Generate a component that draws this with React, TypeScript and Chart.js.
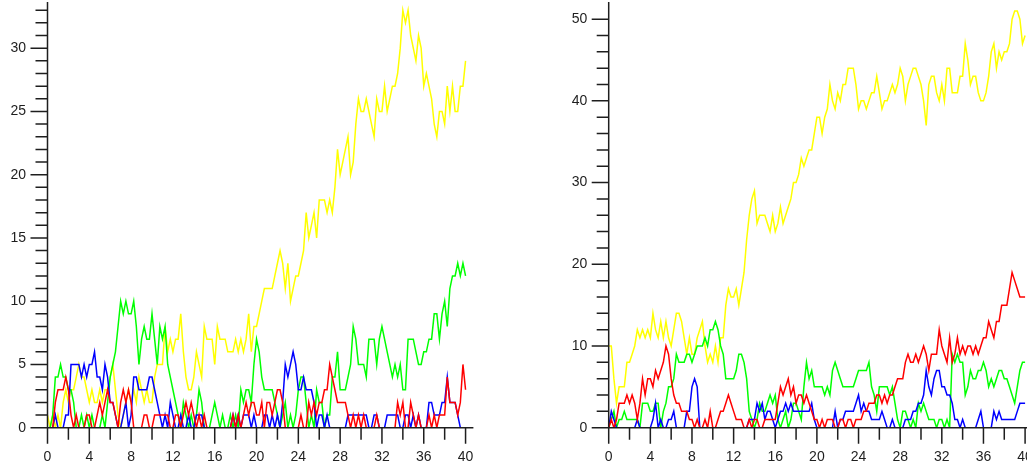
import { useEffect, useRef } from "react";
import { Chart, registerables } from "chart.js";

Chart.register(...registerables);

// ---------- data ----------
const STEP = 0.25;
const POINT_COUNT = 161;
const xValues: number[] = Array.from({ length: POINT_COUNT }, (_, i) => i * STEP);

const xMajorTicks = [0, 4, 8, 12, 16, 20, 24, 28, 32, 36, 40];
const xMinorTicks = [2, 6, 10, 14, 18, 22, 26, 30, 34, 38];

const leftYMajorTicks = [0, 5, 10, 15, 20, 25, 30];
const leftYMinorTicks = [1, 2, 3, 4, 6, 7, 8, 9, 11, 12, 13, 14, 16, 17, 18, 19, 21, 22, 23, 24, 26, 27, 28, 29, 31, 32, 33];

const rightYMajorTicks = [0, 10, 20, 30, 40, 50];
const rightYMinorTicks = [2, 4, 6, 8, 12, 14, 16, 18, 22, 24, 26, 28, 32, 34, 36, 38, 42, 44, 46, 48];

// left panel series (x = 0 .. 40 step 0.25)
const leftYellow = [
  1, 0, 1, 0, 1, 0, 2, 3, 2, 3, 3, 4, 5, 4, 4, 3,
  2, 3, 2, 2, 3, 2, 3, 3, 4, 5, 3, 1, 0, 1, 2, 3,
  2, 3, 2, 4, 3, 2, 3, 2, 2, 4, 5, 5, 5, 8, 6, 7,
  6, 7, 7, 9, 6, 4, 3, 3, 4, 6, 5, 4, 8, 7, 7, 7,
  5, 8, 7, 7, 7, 6, 6, 6, 7, 6, 7, 6, 7, 9, 6, 8,
  8, 9, 10, 11, 11, 11, 11, 12, 13, 14, 13, 11, 13, 10, 11, 12,
  12, 13, 14, 17, 15, 16, 17, 15, 18, 18, 18, 17, 18, 17, 19, 22,
  20, 21, 22, 23, 20, 21, 24, 26, 25, 25, 26, 25, 24, 23, 26, 25,
  25, 27, 25, 26, 27, 27, 28, 30, 33, 32, 33, 31, 30, 29, 31, 30,
  27, 28, 27, 26, 24, 23, 25, 25, 24, 27, 25, 27, 25, 25, 27, 27,
  29,
];
const leftGreen = [
  0, 0, 1, 4, 4, 5, 4, 4, 3, 3, 2, 0, 0, 1, 0, 1,
  0, 1, 0, 0, 0, 1, 0, 2, 4, 5, 6, 8, 10, 9, 10, 9,
  9, 10, 8, 5, 7, 8, 7, 7, 9, 7, 5, 8, 7, 8, 5, 4,
  3, 2, 1, 0, 2, 1, 0, 1, 0, 1, 3, 2, 0, 0, 0, 1,
  2, 1, 0, 1, 0, 0, 1, 0, 1, 0, 3, 2, 3, 3, 2, 5,
  7, 6, 4, 3, 3, 3, 3, 2, 1, 0, 1, 2, 0, 1, 0, 1,
  3, 4, 4, 2, 0, 1, 0, 3, 2, 2, 0, 1, 1, 4, 4, 6,
  3, 3, 3, 4, 5, 8, 7, 5, 5, 5, 4, 7, 7, 7, 5, 7,
  8, 7, 6, 5, 4, 5, 4, 5, 3, 3, 7, 7, 7, 6, 5, 5,
  6, 6, 7, 7, 9, 9, 7, 9, 10, 8, 11, 12, 12, 13, 12, 13,
  12,
];
const leftBlue = [
  0, 0, 0, 1, 0, 0, 0, 1, 1, 5, 5, 5, 5, 4, 5, 4,
  5, 5, 6, 4, 4, 3, 5, 4, 2, 2, 1, 0, 0, 1, 2, 0,
  1, 4, 4, 3, 3, 3, 3, 4, 4, 3, 2, 1, 0, 1, 0, 2,
  1, 0, 0, 1, 0, 0, 1, 0, 0, 1, 1, 1, 0, 0, 0, 0,
  0, 0, 0, 0, 0, 0, 0, 1, 0, 1, 0, 1, 1, 1, 0, 1,
  0, 0, 0, 1, 1, 0, 1, 0, 1, 0, 2, 5, 4, 5, 6, 5,
  3, 3, 4, 3, 3, 3, 2, 0, 1, 1, 0, 1, 0, 0, 0, 0,
  0, 0, 0, 1, 1, 1, 1, 1, 1, 1, 1, 0, 0, 1, 1, 0,
  0, 0, 1, 1, 1, 1, 1, 0, 0, 1, 1, 0, 1, 0, 1, 0,
  0, 0, 2, 2, 1, 1, 1, 2, 2, 4, 2, 2, 2, 1, 0, 0,
  0,
];
const leftRed = [
  0, 0, 0, 2, 3, 3, 3, 4, 3, 1, 0, 1, 0, 0, 0, 1,
  1, 0, 0, 1, 2, 1, 2, 3, 2, 2, 1, 0, 2, 3, 2, 3,
  2, 0, 0, 0, 0, 1, 1, 0, 0, 1, 1, 1, 1, 1, 1, 0,
  0, 1, 1, 0, 1, 2, 1, 2, 1, 0, 1, 0, 1, 0, 0, 0,
  0, 0, 0, 0, 0, 0, 0, 1, 0, 1, 0, 1, 2, 1, 2, 2,
  1, 1, 2, 0, 2, 2, 1, 2, 3, 3, 2, 0, 0, 0, 0, 0,
  0, 1, 0, 0, 2, 1, 2, 1, 2, 2, 3, 3, 5, 4, 3, 2,
  2, 2, 2, 1, 0, 1, 0, 1, 0, 1, 0, 0, 0, 0, 1, 0,
  0, 0, 0, 0, 0, 0, 2, 1, 2, 0, 0, 2, 1, 0, 1, 0,
  0, 0, 1, 0, 1, 0, 1, 1, 1, 4, 2, 2, 2, 1, 2, 5,
  3,
];

// right panel series
const rightYellow = [
  10, 10, 6, 3, 5, 5, 5, 8, 8, 9, 10, 12, 11, 12, 11, 12,
  11, 14, 12, 11, 13, 11, 13, 11, 10, 12, 14, 14, 13, 11, 9, 11,
  9, 9, 11, 12, 13, 10, 8, 9, 8, 10, 8, 11, 11, 15, 17, 16,
  16, 17, 15, 17, 19, 23, 26, 28, 29, 25, 26, 26, 26, 25, 24, 26,
  24, 25, 27, 25, 26, 27, 28, 30, 30, 31, 33, 32, 33, 34, 34, 36,
  38, 38, 36, 38, 39, 42, 40, 39, 41, 40, 42, 42, 44, 44, 44, 42,
  39, 40, 40, 39, 40, 41, 41, 43, 41, 39, 40, 40, 41, 42, 41, 42,
  44, 43, 40, 42, 43, 44, 44, 43, 42, 40, 37, 42, 43, 43, 41, 40,
  42, 40, 44, 44, 41, 41, 41, 43, 43, 47, 45, 42, 43, 43, 41, 40,
  40, 41, 43, 46, 47, 44, 46, 45, 46, 46, 47, 50, 51, 51, 50, 47,
  48,
];
const rightGreen = [
  0, 1, 2, 0, 1, 1, 2, 1, 1, 1, 1, 1, 0, 3, 3, 3,
  2, 2, 3, 3, 0, 2, 3, 5, 5, 6, 9, 8, 8, 8, 9, 9,
  8, 9, 10, 10, 10, 11, 10, 12, 12, 13, 12, 10, 9, 6, 6, 6,
  6, 7, 9, 9, 8, 6, 2, 1, 0, 1, 3, 2, 2, 3, 4, 3,
  4, 1, 0, 1, 2, 0, 1, 3, 3, 2, 1, 5, 8, 6, 7, 5,
  5, 5, 5, 4, 5, 4, 7, 8, 7, 6, 5, 5, 5, 5, 5, 6,
  7, 7, 7, 7, 8, 5, 4, 2, 5, 5, 5, 5, 4, 5, 3, 1,
  0, 2, 2, 1, 0, 1, 0, 3, 2, 3, 2, 1, 1, 1, 0, 1,
  1, 0, 1, 0, 9, 8, 9, 8, 8, 4, 5, 7, 6, 6, 7, 7,
  8, 7, 5, 6, 5, 6, 7, 7, 6, 6, 5, 4, 3, 5, 7, 8,
  8,
];
const rightBlue = [
  0, 2, 1, 0, 0, 0, 0, 0, 0, 0, 0, 1, 0, 0, 0, 0,
  0, 1, 3, 0, 1, 0, 0, 1, 1, 2, 0, 0, 0, 0, 2, 2,
  5, 6, 5, 0, 0, 0, 0, 0, 0, 0, 0, 0, 0, 0, 0, 0,
  0, 0, 0, 0, 0, 0, 1, 1, 1, 3, 2, 3, 1, 2, 2, 1,
  0, 1, 2, 2, 3, 2, 3, 2, 2, 2, 2, 2, 2, 2, 3, 1,
  0, 0, 0, 0, 0, 0, 0, 2, 0, 1, 1, 2, 2, 2, 2, 3,
  4, 2, 3, 2, 2, 1, 1, 1, 1, 2, 1, 0, 0, 1, 0, 0,
  0, 0, 1, 1, 1, 2, 2, 3, 3, 4, 7, 5, 4, 6, 7, 7,
  5, 5, 4, 4, 3, 1, 1, 0, 1, 0, 0, 0, 0, 0, 1, 2,
  0, 0, 0, 0, 2, 1, 2, 1, 1, 1, 1, 1, 1, 2, 3, 3,
  3,
];
const rightRed = [
  0, 1, 0, 1, 3, 3, 3, 4, 3, 4, 3, 1, 3, 6, 4, 6,
  6, 5, 7, 6, 7, 8, 10, 9, 6, 4, 3, 3, 2, 2, 2, 1,
  1, 0, 1, 0, 0, 1, 0, 2, 0, 0, 1, 2, 2, 3, 4, 3,
  2, 1, 1, 1, 0, 0, 1, 0, 1, 1, 0, 0, 1, 1, 1, 1,
  1, 3, 5, 4, 5, 6, 4, 5, 3, 4, 4, 3, 4, 3, 2, 1,
  1, 0, 1, 0, 1, 1, 1, 0, 0, 1, 1, 0, 1, 1, 0, 1,
  1, 1, 2, 2, 3, 3, 3, 4, 4, 3, 4, 3, 4, 4, 5, 6,
  6, 6, 8, 9, 8, 8, 9, 8, 9, 10, 9, 7, 9, 9, 9, 12,
  10, 9, 8, 11, 8, 9, 11, 9, 10, 9, 10, 10, 9, 10, 9, 10,
  11, 11, 13, 12, 11, 13, 13, 15, 15, 15, 17, 19, 18, 17, 16, 16,
  16,
];

// ---------- styles ----------
const RED = "#ff0000";
const BLUE = "#0000ff";
const GREEN = "#00ff00";
const YELLOW = "#ffff00";
const AXIS_COLOR = "#1e1e1e";
const FONT = { family: "'Liberation Sans', Arial, sans-serif", size: 14 };

const toPoints = (vals: number[]) => vals.map((v, i) => ({ x: xValues[i], y: v }));
const series = (label: string, vals: number[], color: string) => ({
  label,
  data: toPoints(vals),
  borderColor: color,
  backgroundColor: color,
  borderWidth: 1.5,
  pointRadius: 0,
  pointHoverRadius: 0,
  tension: 0,
  fill: false,
});

const axesPlugin = {
  id: "axesDraw",
  afterDatasetsDraw(chart: any, _args: any, opts: any) {
    const { ctx, chartArea } = chart;
    const xs = chart.scales.x;
    const ys = chart.scales.y;
    const L = chartArea.left;
    const B = chartArea.bottom;
    ctx.save();
    ctx.strokeStyle = AXIS_COLOR;
    ctx.lineWidth = 1.5;
    ctx.lineCap = "butt";
    ctx.beginPath();
    ctx.moveTo(L, chartArea.top);
    ctx.lineTo(L, B);
    ctx.moveTo(L, B);
    ctx.lineTo(chartArea.right, B);
    for (const v of opts.yMajor) {
      const p = ys.getPixelForValue(v);
      ctx.moveTo(L - 17, p);
      ctx.lineTo(L, p);
    }
    for (const v of opts.yMinor) {
      const p = ys.getPixelForValue(v);
      ctx.moveTo(L - 12, p);
      ctx.lineTo(L, p);
    }
    for (const v of opts.xMajor) {
      const p = xs.getPixelForValue(v);
      ctx.moveTo(p, B);
      ctx.lineTo(p, B + 16);
    }
    for (const v of opts.xMinor) {
      const p = xs.getPixelForValue(v);
      ctx.moveTo(p, B);
      ctx.lineTo(p, B + 12);
    }
    ctx.stroke();
    ctx.restore();
  },
};

function makeConfig(
  datasets: any[],
  yMax: number,
  yMajor: number[],
  yMinor: number[],
  yAxisWidth: number,
  padRight: number
): any {
  return {
    type: "line",
    data: { datasets },
    options: {
      responsive: false,
      animation: false,
      events: [],
      layout: { padding: { left: 0, top: 2, right: padRight, bottom: 0 } },
      plugins: {
        legend: { display: false },
        tooltip: { enabled: false },
        axesDraw: { yMajor, yMinor, xMajor: xMajorTicks, xMinor: xMinorTicks },
      },
      scales: {
        x: {
          type: "linear",
          min: 0,
          max: 40.75,
          grid: { display: false, drawTicks: false },
          border: { display: false },
          ticks: { padding: 21, font: FONT, color: AXIS_COLOR, autoSkip: false, maxRotation: 0 },
          afterBuildTicks: (s: any) => {
            s.ticks = xMajorTicks.map((v) => ({ value: v }));
          },
          afterFit: (s: any) => {
            s.height = 43.3;
            s.paddingLeft = 0;
            s.paddingRight = 0;
          },
        },
        y: {
          type: "linear",
          min: 0,
          max: yMax,
          grid: { display: false, drawTicks: false },
          border: { display: false },
          ticks: { padding: 21.5, font: FONT, color: AXIS_COLOR, autoSkip: false },
          afterBuildTicks: (s: any) => {
            s.ticks = yMajor.map((v) => ({ value: v }));
          },
          afterFit: (s: any) => {
            s.width = yAxisWidth;
            s.paddingTop = 0;
            s.paddingBottom = 0;
          },
        },
      },
    },
    plugins: [axesPlugin],
  };
}

export default function App() {
  const leftRef = useRef<HTMLCanvasElement | null>(null);
  const rightRef = useRef<HTMLCanvasElement | null>(null);

  useEffect(() => {
    const left = new Chart(
      leftRef.current as HTMLCanvasElement,
      makeConfig(
        [
          series("red", leftRed, RED),
          series("blue", leftBlue, BLUE),
          series("green", leftGreen, GREEN),
          series("yellow", leftYellow, YELLOW),
        ],
        33.65,
        leftYMajorTicks,
        leftYMinorTicks,
        47.5,
        46.6
      )
    );
    const right = new Chart(
      rightRef.current as HTMLCanvasElement,
      makeConfig(
        [
          series("red", rightRed, RED),
          series("blue", rightBlue, BLUE),
          series("green", rightGreen, GREEN),
          series("yellow", rightYellow, YELLOW),
        ],
        52.1,
        rightYMajorTicks,
        rightYMinorTicks,
        95.7,
        10.1
      )
    );
    return () => {
      left.destroy();
      right.destroy();
    };
  }, []);

  return (
    <div
      style={{
        position: "absolute",
        left: 0,
        top: 0,
        width: 1027,
        height: 471,
        overflow: "hidden",
        background: "#ffffff",
      }}
    >
      <canvas
        ref={leftRef}
        width={520}
        height={471}
        style={{ position: "absolute", left: 0, top: 0, width: 520, height: 471 }}
      />
      <canvas
        ref={rightRef}
        width={530}
        height={471}
        style={{ position: "absolute", left: 513, top: 0, width: 530, height: 471 }}
      />
    </div>
  );
}
